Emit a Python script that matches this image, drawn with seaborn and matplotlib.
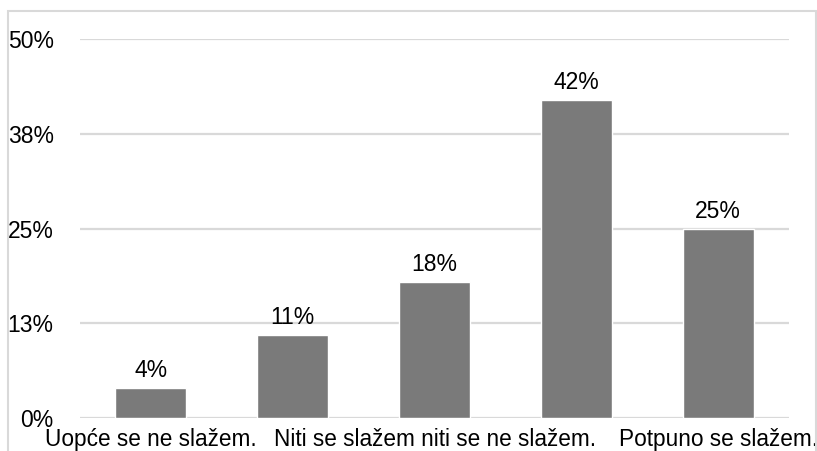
import matplotlib
matplotlib.use("Agg")
import matplotlib.pyplot as plt
from matplotlib.patches import Rectangle
import seaborn as sns
import pandas as pd

# Survey responses (Likert scale) and share of respondents in percent
categories = [
    "Uopće se ne slažem.",
    "Ne slažem se.",
    "Niti se slažem niti se ne slažem.",
    "Slažem se.",
    "Potpuno se slažem.",
]
shares = [4, 11, 18, 42, 25]
value_labels = ["4%", "11%", "18%", "42%", "25%"]
y_ticks = [0, 12.5, 25, 37.5, 50]
y_tick_labels = ["0%", "13%", "25%", "38%", "50%"]

df = pd.DataFrame({"category": categories, "share": shares})

sns.set_theme(style="white")
plt.rcParams["font.family"] = ["Liberation Sans", "DejaVu Sans"]

W, H = 817, 451
fig = plt.figure(figsize=(W / 100, H / 100), dpi=100)
ax = fig.add_axes([80 / W, 1 - 418 / H, (789 - 80) / W, (418 - 39) / H])

sns.barplot(data=df, x="category", y="share", color="#7a7a7a",
            width=0.5, saturation=1, ax=ax, zorder=3)

ax.set_ylim(0, 50)
ax.set_xlim(-0.5, len(categories) - 0.5)
ax.set_yticks(y_ticks)
ax.set_yticklabels(y_tick_labels)
ax.yaxis.grid(True, color="#d9d9d9", linewidth=1.6, zorder=0)
ax.set_axisbelow(True)
for s in ax.spines.values():
    s.set_visible(False)

# only every other category label fits under the bars
ax.set_xticks(range(len(categories)))
ax.set_xticklabels([c if i % 2 == 0 else "" for i, c in enumerate(categories)])
ax.tick_params(axis="x", length=0, pad=7, labelsize=16.3, colors="black")
ax.tick_params(axis="y", length=0, pad=19, labelsize=16.5, colors="black")
for lab in ax.get_yticklabels():
    lab.set_horizontalalignment("right")
ax.set_xlabel("")
ax.set_ylabel("")

for container in ax.containers:
    ax.bar_label(container, labels=value_labels, padding=4, fontsize=16.5,
                 color="black")

# light frame around the chart area
fig.patches.append(Rectangle((8 / W, -0.05), (816 - 8) / W, 1.05 - 11.5 / H,
                             transform=fig.transFigure, fill=False,
                             edgecolor="#d9d9d9", linewidth=1.5))

fig.savefig("out.png", dpi=100)
